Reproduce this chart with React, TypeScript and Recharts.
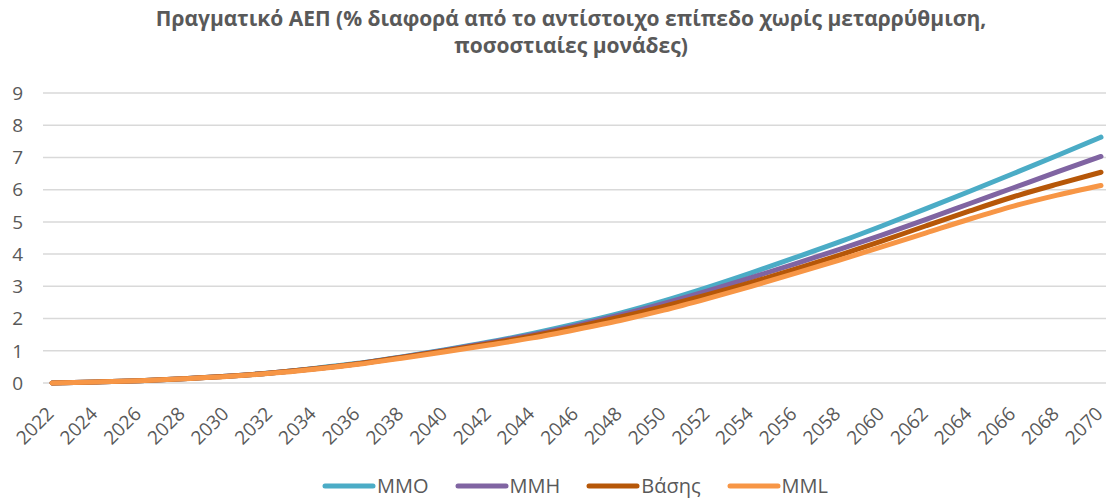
import React from 'react';
import { LineChart, Line, XAxis, YAxis, CartesianGrid, Legend } from 'recharts';

const years = [
  2022, 2024, 2026, 2028, 2030, 2032, 2034, 2036, 2038, 2040, 2042, 2044, 2046,
  2048, 2050, 2052, 2054, 2056, 2058, 2060, 2062, 2064, 2066, 2068, 2070,
];
const mmo = [
  0, 0.03, 0.07, 0.13, 0.21, 0.31, 0.45, 0.61, 0.81, 1.03, 1.27, 1.54, 1.84,
  2.17, 2.55, 2.97, 3.42, 3.89, 4.37, 4.88, 5.41, 5.95, 6.5, 7.06, 7.63,
];
const mmh = [
  0, 0.03, 0.07, 0.13, 0.21, 0.31, 0.44, 0.6, 0.8, 1.02, 1.25, 1.5, 1.79,
  2.11, 2.47, 2.86, 3.27, 3.7, 4.14, 4.6, 5.08, 5.57, 6.06, 6.55, 7.03,
];
const base = [
  0, 0.03, 0.07, 0.13, 0.21, 0.31, 0.44, 0.6, 0.79, 1.0, 1.22, 1.46, 1.74,
  2.05, 2.38, 2.74, 3.12, 3.53, 3.96, 4.41, 4.88, 5.34, 5.78, 6.17, 6.54,
];
const mml = [
  0, 0.03, 0.07, 0.13, 0.2, 0.3, 0.43, 0.58, 0.77, 0.97, 1.18, 1.4, 1.66,
  1.94, 2.26, 2.62, 3.0, 3.4, 3.81, 4.23, 4.66, 5.09, 5.49, 5.83, 6.13,
];
const yTicks = [0, 1, 2, 3, 4, 5, 6, 7, 8, 9];

const series = [
  { key: 'mmo', name: 'ΜΜΟ', color: '#4BACC6' },
  { key: 'mmh', name: 'ΜΜΗ', color: '#8064A2' },
  { key: 'base', name: 'Βάσης', color: '#B65708' },
  { key: 'mml', name: 'MML', color: '#F79646' },
];

const data = years.map((y, i) => ({
  year: y,
  mmo: mmo[i],
  mmh: mmh[i],
  base: base[i],
  mml: mml[i],
}));

const FONT = '"Open Sans", sans-serif';
const TEXT = '#595959';

const YearTick = (props: any) => {
  const { x, y, payload } = props;
  const ax = x + 3;
  const ay = y + 24;
  return (
    <text
      x={ax}
      y={ay}
      transform={`rotate(-45, ${ax}, ${ay})`}
      textAnchor="end"
      fontSize={19}
      fill={TEXT}
      fontFamily={FONT}
    >
      {payload.value}
    </text>
  );
};

const LegendContent = () => (
  <div
    style={{
      display: 'flex',
      justifyContent: 'center',
      gap: 26,
      paddingLeft: 44,
      paddingTop: 8,
      fontFamily: FONT,
      fontSize: 20,
      color: TEXT,
    }}
  >
    {series.map(s => (
      <div key={s.key} style={{ display: 'flex', alignItems: 'center' }}>
        <svg width={54} height={10}>
          <line x1={3} y1={5} x2={51} y2={5} stroke={s.color} strokeWidth={5} strokeLinecap="round" />
        </svg>
        <span style={{ marginLeft: 1 }}>{s.name}</span>
      </div>
    ))}
  </div>
);

const App: React.FC = () => {
  return (
    <div style={{ position: 'absolute', left: 0, top: 0, width: 1108, height: 498, background: '#fff' }}>
      <div
        style={{
          position: 'absolute',
          left: 0,
          top: 5,
          width: 1142,
          textAlign: 'center',
          fontFamily: FONT,
          fontWeight: 700,
          fontSize: 21,
          lineHeight: '27px',
          color: TEXT,
        }}
      >
        Πραγματικό ΑΕΠ (% διαφορά από το αντίστοιχο επίπεδο χωρίς μεταρρύθμιση,
        <br />
        ποσοστιαίες μονάδες)
      </div>
      <LineChart width={1108} height={498} data={data} margin={{ top: 93, right: 2, bottom: 0, left: 0 }}>
        <CartesianGrid vertical={false} stroke="#D9D9D9" strokeWidth={1.5} />
        <XAxis
          dataKey="year"
          axisLine={false}
          tickLine={false}
          interval={0}
          tick={<YearTick />}
          height={81}
          padding={{ left: 9, right: 5 }}
        />
        <YAxis
          domain={[0, 9]}
          ticks={yTicks}
          axisLine={false}
          tickLine={false}
          width={43}
          tickMargin={14}
          tick={{ fontSize: 19, fill: TEXT, fontFamily: FONT }}
          interval={0}
        />
        <Legend verticalAlign="bottom" height={34} content={<LegendContent />} />
        {series.map(s => (
          <Line
            key={s.key}
            type="monotone"
            dataKey={s.key}
            name={s.name}
            stroke={s.color}
            strokeWidth={5}
            strokeLinecap="round"
            dot={false}
            isAnimationActive={false}
          />
        ))}
      </LineChart>
    </div>
  );
};

export default App;
